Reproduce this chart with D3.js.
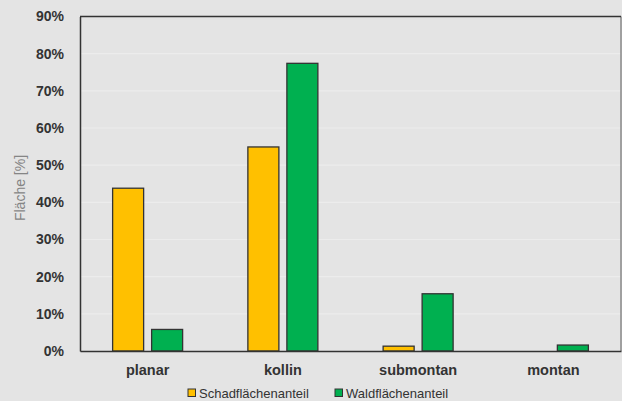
<!DOCTYPE html>
<html><head><meta charset="utf-8">
<script src="https://cdn.jsdelivr.net/npm/d3@7/dist/d3.min.js"></script>
<style>html,body{margin:0;padding:0;background:#e4e4e4;}svg{display:block;}</style>
</head><body>
<script>
const categories = ["planar", "kollin", "submontan", "montan"];
const seriesNames = ["Schadflächenanteil", "Waldflächenanteil"];
const schadValues = [43.8, 54.9, 1.3, 0];
const waldValues = [5.8, 77.4, 15.4, 1.6];
const yTicks = [0, 10, 20, 30, 40, 50, 60, 70, 80, 90];
const colors = ["#FFC000", "#00B050"];

const W = 622, H = 401;
const m = {left: 80, right: 1, top: 16.5, bottom: 50};
const svg = d3.select("body").append("svg").attr("width", W).attr("height", H);
svg.append("rect").attr("width", W).attr("height", H).attr("fill", "#e4e4e4");

const x = d3.scaleBand().domain(categories).range([m.left, W - m.right]);
const y = d3.scaleLinear().domain([0, 90]).range([H - m.bottom, m.top]);
const x1 = d3.scaleBand().domain(seriesNames).range([0, 70]).paddingInner(0.205);

// gridlines
svg.append("g").selectAll("line").data(yTicks.filter(t => t > 0 && t < 90)).join("line")
  .attr("x1", m.left).attr("x2", W - m.right)
  .attr("y1", d => y(d)).attr("y2", d => y(d))
  .attr("stroke", "#ececec").attr("stroke-width", 1.2);

// right border
svg.append("line").attr("x1", W - m.right).attr("x2", W - m.right)
  .attr("y1", y(90)).attr("y2", y(0)).attr("stroke", "#8a8a8a").attr("stroke-width", 1.5);
// top border
svg.append("line").attr("x1", m.left).attr("x2", W - m.right)
  .attr("y1", y(90)).attr("y2", y(90)).attr("stroke", "#333").attr("stroke-width", 1.5);

const data = categories.map((c, i) => ({cat: c, vals: [schadValues[i], waldValues[i]]}));
const groups = svg.append("g").selectAll("g").data(data).join("g")
  .attr("transform", d => `translate(${x(d.cat) + x.bandwidth() / 2 - 35},0)`);
groups.selectAll("rect").data(d => d.vals.map((v, j) => ({v, s: seriesNames[j], j}))
  .filter(e => e.v > 0)).join("rect")
  .attr("x", e => x1(e.s)).attr("width", x1.bandwidth())
  .attr("y", e => y(e.v)).attr("height", e => y(0) - y(e.v))
  .attr("fill", e => colors[e.j]).attr("stroke", "#333").attr("stroke-width", 1.3);

// axes
const yAxis = svg.append("g").attr("transform", `translate(${m.left},0)`)
  .call(d3.axisLeft(y).tickValues(yTicks).tickFormat(d => d + "%").tickSize(0).tickPadding(16));
yAxis.select(".domain").attr("stroke", "#333").attr("stroke-width", 1.5);
yAxis.selectAll("text").attr("font-family", "Liberation Sans, Arial, sans-serif")
  .attr("font-size", 14).attr("font-weight", "bold").attr("fill", "#333");

const xAxis = svg.append("g").attr("transform", `translate(0,${y(0)})`)
  .call(d3.axisBottom(x).tickSize(0).tickPadding(14));
xAxis.select(".domain").attr("stroke", "#333").attr("stroke-width", 1.5);
xAxis.selectAll("text").attr("font-family", "Liberation Sans, Arial, sans-serif")
  .attr("font-size", 14.5).attr("font-weight", "bold").attr("fill", "#333");

// y label
svg.append("text").attr("transform", `translate(25,${188}) rotate(-90)`)
  .attr("text-anchor", "middle").attr("font-family", "Liberation Sans, Arial, sans-serif")
  .attr("font-size", 14).attr("fill", "#858585").text("Fläche [%]");

// legend
const legX = [188, 335];
const leg = svg.append("g").selectAll("g").data(seriesNames).join("g")
  .attr("transform", (d, i) => `translate(${legX[i]},389)`);
leg.append("rect").attr("width", 7.5).attr("height", 7.5)
  .attr("fill", (d, i) => colors[i]).attr("stroke", "#333").attr("stroke-width", 1);
leg.append("text").attr("x", 11).attr("y", 8.5)
  .attr("font-family", "Liberation Sans, Arial, sans-serif").attr("font-size", 13)
  .attr("fill", "#333").text(d => d);
</script>
</body></html>
